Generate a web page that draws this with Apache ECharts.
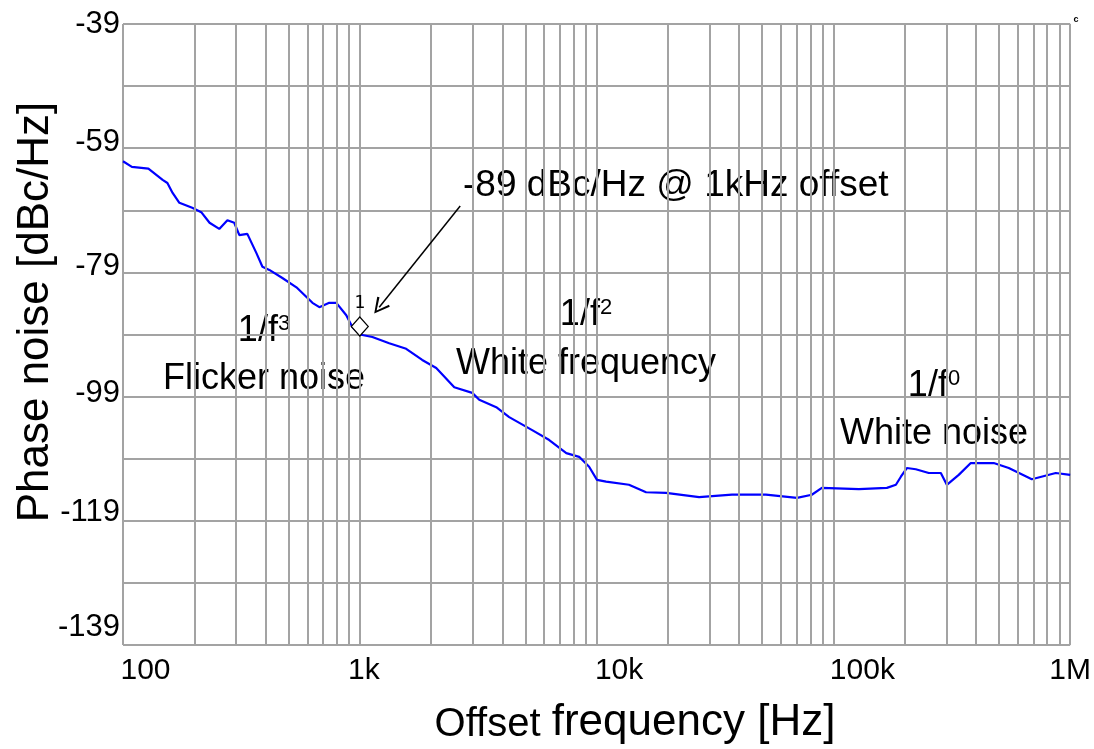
<!DOCTYPE html>
<html><head><meta charset="utf-8">
<script src="https://cdn.jsdelivr.net/npm/echarts@6/dist/echarts.min.js"></script>
<style>html,body{margin:0;padding:0;background:#fff}#c{width:1094px;height:749px}</style>
</head><body><div id="c"></div>
<script>
// ---- data ----
const freqHz = [100, 109, 128, 147, 154, 162, 173, 196, 214, 232, 255, 276, 295, 310, 335, 366, 388, 415, 471, 540, 631, 675, 743, 796, 877, 930, 1000, 1130, 1331, 1570, 1835, 2103, 2506, 2985, 3195, 3770, 4275, 5346, 6310, 7450, 8440, 9300, 10040, 10970, 13700, 16180, 19650, 27100, 37300, 51900, 70200, 81100, 89400, 128200, 168300, 183700, 192800, 204300, 222900, 252900, 284300, 301400, 338400, 380500, 475500, 550500, 688700, 869500, 1000000];
const phaseNoise = [-61.1, -62.0, -62.3, -64.1, -64.6, -66.2, -67.8, -68.6, -69.3, -71.0, -72.0, -70.6, -71.0, -73.0, -72.8, -75.9, -78.1, -78.6, -79.9, -81.4, -83.9, -84.6, -83.9, -83.9, -85.9, -87.8, -89.0, -89.4, -90.4, -91.3, -93.1, -94.4, -97.5, -98.4, -99.5, -100.7, -102.3, -104.4, -106.0, -108.1, -108.7, -110.3, -112.4, -112.7, -113.2, -114.4, -114.5, -115.2, -114.8, -114.8, -115.3, -114.8, -113.7, -113.9, -113.7, -113.2, -111.9, -110.5, -110.7, -111.3, -111.3, -113.2, -111.6, -109.7, -109.7, -110.5, -112.3, -111.3, -111.6];
const xTickLabels = ['100', '1k', '10k', '100k', '1M'];
const yTickLabels = [-39, -59, -79, -99, -119, -139];
const minorGridFreqs = [200, 300, 400, 500, 600, 700, 800, 900, 2000, 3000, 4000, 5000, 6000, 7000, 8000, 9000, 20000, 30000, 40000, 50000, 60000, 70000, 80000, 90000, 200000, 300000, 400000, 500000, 600000, 700000, 800000, 900000];
const markerFreq = 1000;
const markerLevel = -89;
const markerText = '1';
const arrowFrom = [2655, -68.3];
const arrowTo = [1208, -84.6];
const annotationText = '-89 dBc/Hz @ 1kHz offset';
const regions = [
  { base: '1/f', exp: '3', name: 'Flicker noise' },
  { base: '1/f', exp: '2', name: 'White frequency' },
  { base: '1/f', exp: '0', name: 'White noise' }
];
const yTitle = 'Phase noise [dBc/Hz]';
const xTitleA = 'Offset';
const xTitleB = 'frequency [Hz]';

// ---- styling ----
const FONT = '"Liberation Sans", Arial, sans-serif';
const GRID = '#a3a3a3';
const xLabelPad = [45, 8, 45, 58, 0];
const yLabelPad = { '-39': 0, '-59': 12, '-79': 12, '-99': 6, '-119': 16, '-139': 36 };

const xRich = {};
xTickLabels.forEach((t, i) => {
  xRich['t' + i] = { fontSize: 30, fontFamily: FONT, color: '#000', padding: [0, 0, 0, xLabelPad[i]] };
});
const yRich = {};
yTickLabels.forEach((v, i) => {
  yRich['y' + i] = { fontSize: 31, fontFamily: FONT, color: '#000', padding: [0, 0, yLabelPad[String(v)], 0] };
});

const regionPos = [[264, 331, 379], [586, 315, 364], [934, 386, 434]];
const graphics = [];
regions.forEach((r, i) => {
  const p = regionPos[i];
  graphics.push({
    type: 'text', x: p[0], y: p[1], silent: true,
    style: {
      text: '{b|' + r.base + '}{s|' + r.exp + '}', align: 'center', verticalAlign: 'middle',
      rich: {
        b: { fontSize: 36, fontFamily: FONT, fill: '#000', verticalAlign: 'bottom', lineHeight: 37 },
        s: { fontSize: 22, fontFamily: FONT, fill: '#000', verticalAlign: 'top', lineHeight: 22 }
      }
    }
  });
  graphics.push({
    type: 'text', x: p[0], y: p[2], silent: true,
    style: { text: r.name, fill: '#000', font: '36px ' + FONT, align: 'center', verticalAlign: 'middle' }
  });
});
graphics.push({
  type: 'text', x: 463, y: 186, silent: true,
  style: { text: annotationText, fill: '#000', font: '37px ' + FONT, align: 'left', verticalAlign: 'middle' }
});
graphics.push({
  type: 'text', x: 36, y: 312, rotation: Math.PI / 2, silent: true,
  style: { text: yTitle, fill: '#000', font: '44px ' + FONT, align: 'center', verticalAlign: 'middle' }
});
graphics.push({
  type: 'text', x: 635, y: 722, silent: true,
  style: {
    text: '{a|' + xTitleA + ' }{b|' + xTitleB + '}', align: 'center', verticalAlign: 'middle',
    rich: {
      a: { fontSize: 40, fontFamily: FONT, fill: '#000', verticalAlign: 'bottom', lineHeight: 46 },
      b: { fontSize: 44, fontFamily: FONT, fill: '#000', verticalAlign: 'bottom', lineHeight: 46 }
    }
  }
});
graphics.push({
  type: 'text', x: 1076, y: 20, silent: true,
  style: { text: 'c', fill: '#000', font: 'bold 9px ' + FONT, align: 'center', verticalAlign: 'middle' }
});

const chart = echarts.init(document.getElementById('c'), null, { renderer: 'canvas' });
chart.setOption({
  animation: false,
  backgroundColor: '#fff',
  grid: { left: 123, right: 22, top: 24, bottom: 104, containLabel: false },
  xAxis: {
    type: 'log', logBase: 10, min: 100, max: 1000000,
    axisLine: { show: false }, axisTick: { show: false },
    splitLine: { show: true, lineStyle: { color: GRID, width: 2 } },
    axisLabel: {
      show: true, margin: 11, showMinLabel: true, showMaxLabel: true,
      fontSize: 30, fontFamily: FONT, color: '#000',
      formatter: function (v) {
        const i = Math.round(Math.log10(v)) - 2;
        return '{t' + i + '|' + xTickLabels[i] + '}';
      },
      rich: xRich
    }
  },
  yAxis: {
    type: 'value', min: -139, max: -39, interval: 10,
    axisLine: { show: false }, axisTick: { show: false },
    splitLine: { show: true, lineStyle: { color: GRID, width: 2 } },
    axisLabel: {
      margin: 3, fontSize: 31, fontFamily: FONT, color: '#000',
      showMinLabel: true, showMaxLabel: true,
      formatter: function (v) {
        const i = yTickLabels.indexOf(Math.round(v));
        return i < 0 ? '' : '{y' + i + '|' + yTickLabels[i] + '}';
      },
      rich: yRich
    }
  },
  series: [
    {
      type: 'line', z: 1, data: [], silent: true,
      markLine: {
        silent: true, animation: false, symbol: ['none', 'none'],
        label: { show: false },
        lineStyle: { color: GRID, width: 2, type: 'solid' },
        emphasis: { disabled: true },
        data: minorGridFreqs.map(f => ({ xAxis: f }))
      }
    },
    {
      type: 'line', z: 3, showSymbol: false, silent: true,
      lineStyle: { color: '#0000ff', width: 2.2 },
      data: freqHz.map((f, i) => [f, phaseNoise[i]]),
      markPoint: {
        silent: true, animation: false,
        symbol: 'diamond', symbolSize: [17, 19], symbolOffset: [0, -8],
        itemStyle: { color: '#fff', borderColor: '#000', borderWidth: 1.2 },
        label: { show: true, position: 'top', distance: 4, formatter: markerText, fontFamily: '"DejaVu Sans Mono", monospace', fontSize: 18, color: '#000' },
        data: [{ coord: [markerFreq, markerLevel] }]
      },
      markLine: {
        silent: true, animation: false,
        symbol: ['none', 'path://M5,0 L10,10 L8.8,10.8 L5,2.6 L1.2,10.8 L0,10 Z'],
        symbolSize: [16, 16],
        label: { show: false },
        lineStyle: { color: '#000', width: 1.5, type: 'solid' },
        emphasis: { disabled: true },
        data: [[{ coord: arrowFrom }, { coord: arrowTo }]]
      }
    }
  ],
  graphic: graphics
});
</script>
</body></html>
